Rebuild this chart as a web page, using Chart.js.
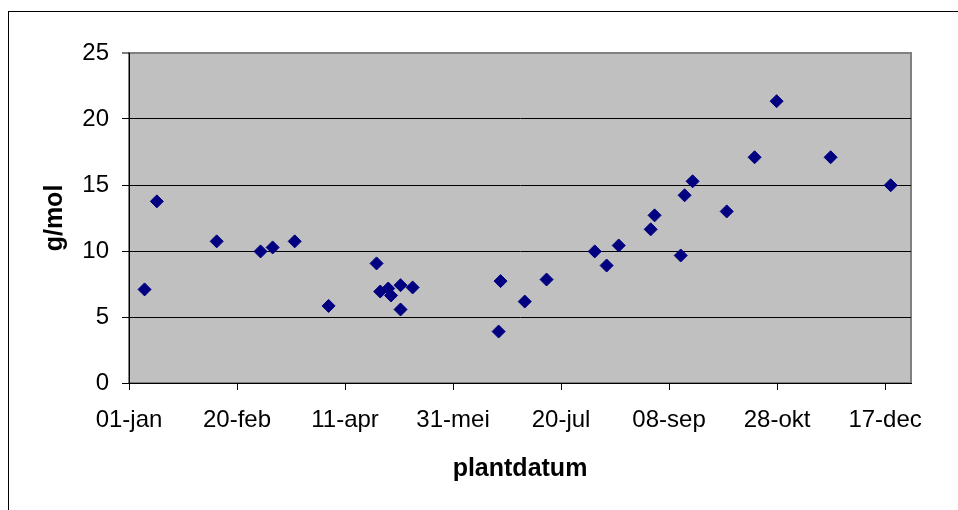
<!DOCTYPE html>
<html>
<head>
<meta charset="utf-8">
<script src="https://cdn.jsdelivr.net/npm/chart.js@4/dist/chart.umd.min.js"></script>
<style>
html,body{margin:0;padding:0;background:#fff;}
#wrap{width:958px;height:510px;}
</style>
</head>
<body>
<div id="wrap"><canvas id="c" width="958" height="510"></canvas></div>
<script>
// day of year (0 = 01-jan)
const plantDays = [7.2, 12.9, 40.6, 60.9, 66.5, 76.7, 92.4, 114.6, 116.3, 120.0, 121.3, 125.7, 125.7, 131.3, 171.1, 172.0, 183.2, 193.3, 215.6, 221.1, 226.7, 241.5, 243.3, 255.4, 257.2, 260.9, 276.7, 289.6, 299.8, 324.8, 352.6];
const gramPerMol = [7.09, 13.76, 10.73, 9.97, 10.27, 10.73, 5.84, 9.06, 6.93, 7.16, 6.63, 7.41, 5.57, 7.24, 3.90, 7.72, 6.17, 7.84, 9.97, 8.90, 10.42, 11.64, 12.70, 9.66, 14.22, 15.28, 13.00, 17.10, 21.35, 17.10, 14.98];
const xTickValues = [0, 50, 100, 150, 200, 250, 300, 350];
const xTickLabels = ['01-jan', '20-feb', '11-apr', '31-mei', '20-jul', '08-sep', '28-okt', '17-dec'];
const yTickValues = [0, 5, 10, 15, 20, 25];

const points = plantDays.map((d, i) => ({x: d, y: gramPerMol[i]}));
const FONT = "'Liberation Sans', Arial, sans-serif";

const decor = {
  id: 'decor',
  beforeDraw(chart) {
    const {ctx, chartArea: a} = chart;
    ctx.save();
    ctx.fillStyle = '#fff';
    ctx.fillRect(0, 0, chart.width, chart.height);
    ctx.strokeStyle = '#000';
    ctx.lineWidth = 1;
    ctx.strokeRect(8.5, 11.5, 1200, 1200);
    ctx.fillStyle = '#C0C0C0';
    ctx.fillRect(a.left, a.top, a.right - a.left, a.bottom - a.top);
    ctx.strokeStyle = '#808080';
    ctx.lineWidth = 2;
    ctx.strokeRect(a.left, a.top, a.right - a.left, a.bottom - a.top);
    ctx.restore();
  }
};

new Chart(document.getElementById('c'), {
  type: 'scatter',
  data: {
    datasets: [{
      data: points,
      pointStyle: 'rectRot',
      pointRadius: 6.5,
      pointHoverRadius: 6.5,
      backgroundColor: '#000080',
      borderColor: '#000080',
      borderWidth: 1
    }]
  },
  options: {
    responsive: false,
    animation: false,
    devicePixelRatio: 1,
    layout: {padding: {top: 53, right: 47, bottom: 0, left: 0}},
    plugins: {legend: {display: false}, tooltip: {enabled: false}},
    scales: {
      x: {
        type: 'linear',
        min: 0,
        max: 362,
        afterBuildTicks(scale) { scale.ticks = xTickValues.map(v => ({value: v})); },
        afterFit(scale) { scale.height = 127; },
        ticks: {
          color: '#000',
          font: {family: FONT, size: 24},
          padding: 16,
          maxRotation: 0,
          autoSkip: false,
          callback(v) { const i = xTickValues.indexOf(v); return i >= 0 ? xTickLabels[i] : ''; }
        },
        grid: {drawOnChartArea: false, drawTicks: true, tickLength: 7, tickColor: '#000', color: '#000'},
        border: {color: '#000', width: 1},
        title: {display: true, text: 'plantdatum', color: '#000', font: {family: FONT, size: 25, weight: 'bold'}, padding: {top: 0, bottom: 26}}
      },
      y: {
        min: 0,
        max: 25,
        afterBuildTicks(scale) { scale.ticks = yTickValues.map(v => ({value: v})); },
        afterFit(scale) { scale.width = 129; },
        ticks: {color: '#000', font: {family: FONT, size: 24}, padding: 13},
        grid: {
          color: c => (c.tick && c.tick.value === 25) ? '#808080' : '#000',
          lineWidth: c => (c.tick && c.tick.value === 25) ? 2 : 1,
          tickColor: '#000',
          tickLength: 7,
          tickWidth: 1
        },
        border: {color: '#000', width: 1},
        title: {display: true, text: 'g/mol', color: '#000', font: {family: FONT, size: 25, weight: 'bold'}, padding: {top: 40, bottom: 0}}
      }
    }
  },
  plugins: [decor]
});
</script>
</body>
</html>
